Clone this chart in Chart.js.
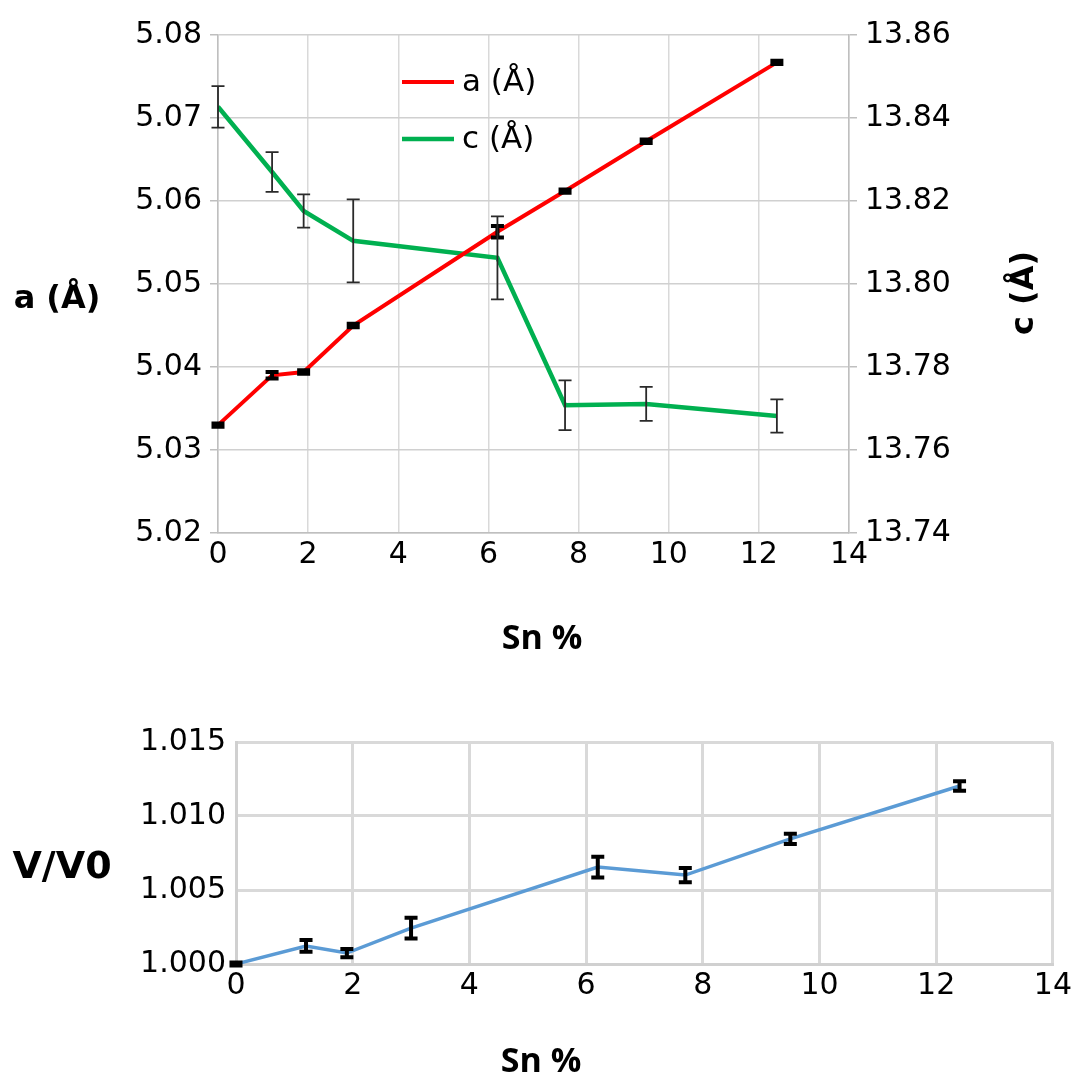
<!DOCTYPE html>
<html>
<head>
<meta charset="utf-8">
<title>Lattice parameters vs Sn content</title>
<script src="https://cdn.jsdelivr.net/npm/chart.js@4.4.1/dist/chart.umd.min.js"></script>
<style>
  html, body { margin: 0; padding: 0; background: #ffffff; }
  body { width: 1076px; height: 1082px; position: relative; overflow: hidden; }
  canvas { position: absolute; left: 0; }
  #top { top: 0; }
  #bottom { top: 690px; }
</style>
</head>
<body>
<canvas id="top" width="1076" height="680"></canvas>
<canvas id="bottom" width="1076" height="392"></canvas>
<script>
// Sn content (%) of each sample
const snPct = [0, 1.2, 1.9, 3.0, 6.2, 7.7, 9.5, 12.4];

// lattice parameter a (Å) and its uncertainty
const aVals = [5.0330, 5.0390, 5.0394, 5.0450, 5.0563, 5.0612, 5.0672, 5.0767];
const aErr  = [0.0002, 0.0004, 0.0002, 0.0002, 0.0007, 0.0002, 0.0002, 0.0002];

// lattice parameter c (Å) and its uncertainty
const cVals = [13.8427, 13.8270, 13.8176, 13.8104, 13.8063, 13.7708, 13.7711, 13.7682];
const cErr  = [0.0050, 0.0048, 0.0040, 0.0100, 0.0100, 0.0060, 0.0041, 0.0040];

// relative cell volume V/V0 and its uncertainty
const vRatio = [1.00000, 1.00122, 1.00074, 1.00243, 1.00655, 1.00601, 1.00845, 1.01203];
const vErr   = [0.00010, 0.00040, 0.00028, 0.00070, 0.00070, 0.00048, 0.00035, 0.00032];

// axis titles and legend labels
const xTitle = 'Sn %';
const aTitle = 'a (Å)';
const cTitle = 'c (Å)';
const vTitle = 'V/V0';

const TICK_FONT = { family: '"DejaVu Sans", sans-serif', size: 30 };
const pts = (xs, ys) => xs.map((x, i) => ({ x: x, y: ys[i] }));

// vertical error bars with caps, placed through the chart scales
const errorBars = {
  id: 'errorBars',
  afterDatasetsDraw(chart) {
    const ctx = chart.ctx;
    chart.data.datasets.forEach((ds, i) => {
      if (!ds.errors) return;
      const xs = chart.scales.x;
      const ys = chart.scales[ds.yAxisID || 'y'];
      const cap = ds.errorCap || 6;
      ctx.save();
      ctx.strokeStyle = ds.errorColor || '#000';
      ctx.lineWidth = ds.errorWidth || 1;
      ctx.lineCap = 'butt';
      ds.data.forEach((p, j) => {
        const e = ds.errors[j];
        const px = xs.getPixelForValue(p.x);
        const y1 = ys.getPixelForValue(p.y + e);
        const y2 = ys.getPixelForValue(p.y - e);
        ctx.beginPath();
        ctx.moveTo(px, y1); ctx.lineTo(px, y2);
        ctx.moveTo(px - cap, y1); ctx.lineTo(px + cap, y1);
        ctx.moveTo(px - cap, y2); ctx.lineTo(px + cap, y2);
        ctx.stroke();
      });
      ctx.restore();
    });
  }
};

// free-standing axis titles
const axisTitles = {
  id: 'axisTitles',
  afterDraw(chart, args, opts) {
    const ctx = chart.ctx;
    (opts.items || []).forEach(t => {
      ctx.save();
      ctx.fillStyle = '#000';
      ctx.font = t.font;
      ctx.textAlign = 'center';
      ctx.textBaseline = 'middle';
      ctx.translate(t.x, t.y);
      if (t.rotate) ctx.rotate(t.rotate);
      ctx.fillText(t.text, 0, 0);
      ctx.restore();
    });
  }
};

// legend drawn inside the plot area
const innerLegend = {
  id: 'innerLegend',
  afterDraw(chart, args, opts) {
    if (!opts.show) return;
    const ctx = chart.ctx;
    const area = chart.chartArea;
    chart.data.datasets.forEach((ds, i) => {
      const y = area.top + opts.top + i * opts.gap;
      const x0 = area.left + opts.left;
      ctx.save();
      ctx.strokeStyle = ds.borderColor;
      ctx.lineWidth = ds.borderWidth;
      ctx.beginPath();
      ctx.moveTo(x0, y); ctx.lineTo(x0 + 52, y);
      ctx.stroke();
      ctx.fillStyle = '#000';
      ctx.font = '31px "DejaVu Sans", sans-serif';
      ctx.textBaseline = 'middle';
      ctx.fillText(ds.label, x0 + 60, y + 1);
      ctx.restore();
    });
  }
};

Chart.register(errorBars, axisTitles, innerLegend);

// ---- top chart: a and c lattice parameters ----
new Chart(document.getElementById('top'), {
  type: 'scatter',
  data: {
    datasets: [
      {
        label: aTitle,
        data: pts(snPct, aVals),
        yAxisID: 'y',
        showLine: true,
        borderColor: '#ff0000',
        borderWidth: 4,
        pointRadius: 0,
        errors: aErr,
        errorColor: '#000000',
        errorWidth: 4,
        errorCap: 6.5
      },
      {
        label: cTitle,
        data: pts(snPct, cVals),
        yAxisID: 'y1',
        showLine: true,
        borderColor: '#00b050',
        borderWidth: 4.5,
        pointRadius: 0,
        errors: cErr,
        errorColor: '#2a2a2a',
        errorWidth: 1.8,
        errorCap: 6.5
      }
    ]
  },
  options: {
    responsive: false,
    animation: false,
    devicePixelRatio: 1,
    layout: { padding: { top: 35, left: 0, right: 0, bottom: 0 } },
    plugins: {
      legend: { display: false },
      tooltip: { enabled: false },
      innerLegend: { show: true, left: 184, top: 47, gap: 57 },
      axisTitles: {
        items: [
          { text: aTitle, x: 57, y: 300, font: 'bold 32px "DejaVu Sans", sans-serif' },
          { text: cTitle, x: 1025, y: 293, rotate: -Math.PI / 2, font: 'bold 32px "DejaVu Sans", sans-serif' },
          { text: xTitle, x: 542, y: 639, font: 'bold 34px "Open Sans", sans-serif' }
        ]
      }
    },
    scales: {
      x: {
        type: 'linear',
        min: 0, max: 14,
        ticks: { stepSize: 2, color: '#000', font: TICK_FONT, padding: 4 },
        grid: { color: '#d9d9d9', lineWidth: 1.5, drawTicks: false },
        border: { color: '#bfbfbf', width: 1.5 },
        afterFit: s => { s.height = 147; }
      },
      y: {
        position: 'left',
        min: 5.02, max: 5.08,
        ticks: { stepSize: 0.01, color: '#000', font: TICK_FONT, padding: 8,
                 callback: v => v.toFixed(2) },
        grid: { color: '#d0d0d0', lineWidth: 1.5, tickLength: 8, tickColor: '#bfbfbf' },
        border: { color: '#bfbfbf', width: 1.5 },
        afterFit: s => { s.width = 218; }
      },
      y1: {
        position: 'right',
        min: 13.74, max: 13.86,
        ticks: { stepSize: 0.02, color: '#000', font: TICK_FONT, padding: 8,
                 callback: v => v.toFixed(2) },
        grid: { drawOnChartArea: false, lineWidth: 1.5, tickLength: 8, tickColor: '#bfbfbf' },
        border: { color: '#bfbfbf', width: 1.5 },
        afterFit: s => { s.width = 227; }
      }
    }
  }
});

// ---- bottom chart: relative volume ----
new Chart(document.getElementById('bottom'), {
  type: 'scatter',
  data: {
    datasets: [
      {
        label: vTitle,
        data: pts(snPct, vRatio),
        showLine: true,
        borderColor: '#5b9bd5',
        borderWidth: 3.5,
        pointRadius: 0,
        errors: vErr,
        errorColor: '#000000',
        errorWidth: 4,
        errorCap: 6.5
      }
    ]
  },
  options: {
    responsive: false,
    animation: false,
    devicePixelRatio: 1,
    layout: { padding: { top: 52, left: 0, right: 23, bottom: 0 } },
    plugins: {
      legend: { display: false },
      tooltip: { enabled: false },
      innerLegend: { show: false },
      axisTitles: {
        items: [
          { text: vTitle, x: 62, y: 178, font: 'bold 38px "DejaVu Sans", sans-serif' },
          { text: xTitle, x: 541, y: 372, font: 'bold 34px "Open Sans", sans-serif' }
        ]
      }
    },
    scales: {
      x: {
        type: 'linear',
        min: 0, max: 14,
        ticks: { stepSize: 2, color: '#000', font: TICK_FONT, padding: 4 },
        grid: { color: '#d9d9d9', lineWidth: 3, drawTicks: false },
        border: { color: '#d0d0d0', width: 3 },
        afterFit: s => { s.height = 118; }
      },
      y: {
        min: 1.000, max: 1.015,
        ticks: { stepSize: 0.005, color: '#000', font: TICK_FONT, padding: 10,
                 callback: v => v.toFixed(3) },
        grid: { color: '#d9d9d9', lineWidth: 3, drawTicks: false },
        border: { color: '#d0d0d0', width: 3 },
        afterFit: s => { s.width = 236; }
      }
    }
  }
});
</script>
</body>
</html>
